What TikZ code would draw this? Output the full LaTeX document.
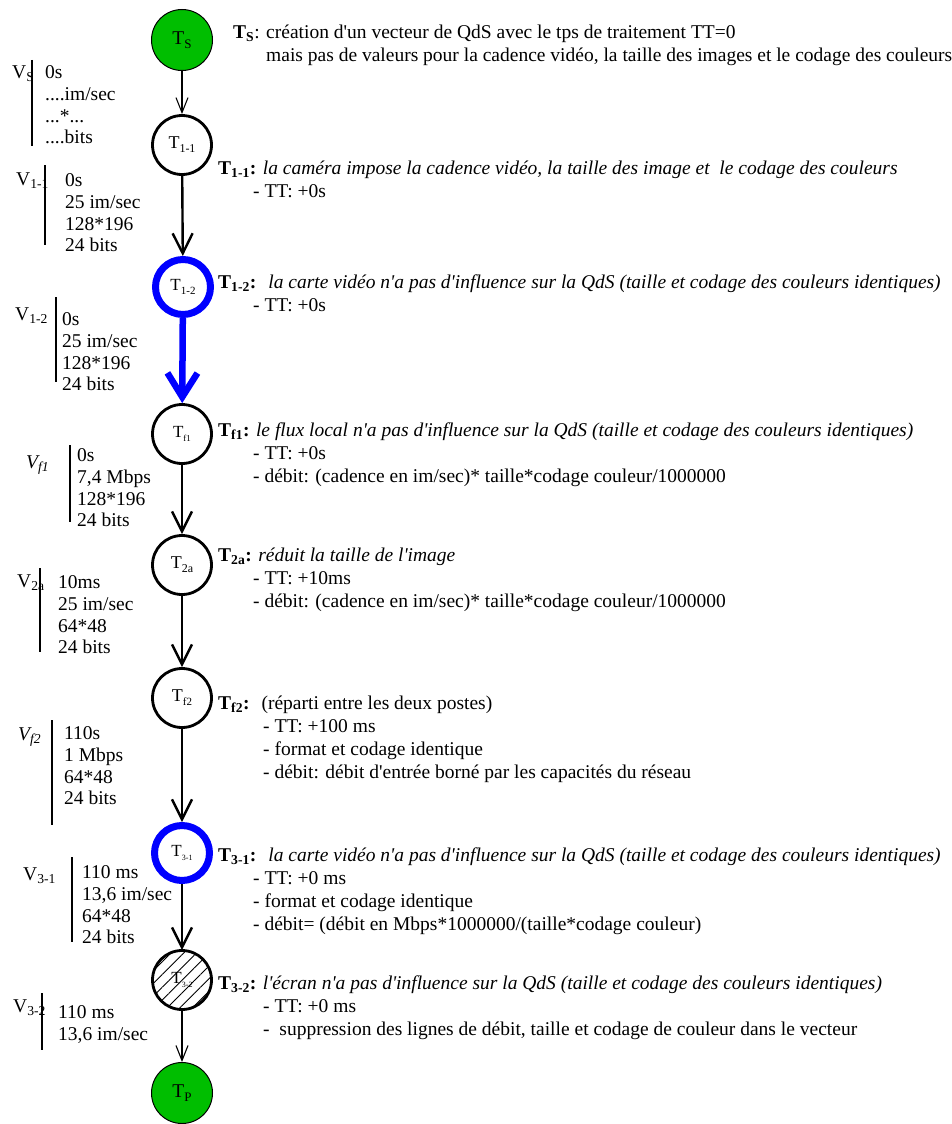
\documentclass[tikz,border=0pt]{standalone}
\usepackage{fontspec}
\setmainfont{Liberation Serif}
\usetikzlibrary{arrows.meta,patterns.meta}

\definecolor{startgreen}{RGB}{0,190,0}
\definecolor{flowblue}{RGB}{0,0,255}
% T with a small lowered index, sizes in pt
\newcommand\tsub[3]{{\fontsize{#1}{#1}\selectfont T}{\fontsize{#2}{#2}\selectfont\raisebox{-4pt}{#3}}}
\newcommand\apo{\textquotesingle}

\begin{document}
\begin{tikzpicture}[
  x=1pt, y=-1pt,
  font=\fontsize{19.5}{22.5}\selectfont,
  proc/.style={circle, draw, line width=2.8pt, minimum size=59pt, inner sep=0pt, fill=white},
  endpt/.style={proc, fill=startgreen, line width=1pt, minimum size=61pt},
  cardproc/.style={proc, draw=flowblue, line width=7pt, minimum size=55pt},
  hatched/.style={proc, pattern={Lines[angle=45,distance=9pt,line width=0.9pt]}},
  flow/.style={-{Straight Barb[length=20pt,width=20pt]}, line width=2.4pt},
  thinflow/.style={-{Straight Barb[length=15pt,width=12pt]}, line width=1.1pt},
  blueflow/.style={-{Straight Barb[length=24pt,width=30pt]}, line width=6.5pt, draw=flowblue},
  vec/.style={anchor=north west, align=left, inner sep=0pt, font=\fontsize{19.5}{21.8}\selectfont},
  vlabel/.style={anchor=base west, inner sep=0pt},
  vbar/.style={line width=2.8pt},
  note/.style={anchor=north west, align=left, inner sep=0pt, font=\fontsize{19.5}{23}\selectfont},
]
\useasboundingbox (0,0) rectangle (951,1124);

% chain of treatments
\node[endpt]    (ts)  at (182,40)   {\tsub{19.5}{13}{S}};
\node[proc]     (t11) at (182,145)  {\tsub{18}{12}{1-1}};
\node[cardproc] (t12) at (183,287)  {\tsub{17}{11}{1-2}};
\node[proc]     (tf1) at (182,434)  {\tsub{17}{9}{f1}};
\node[proc]     (t2a) at (182,565)  {\tsub{18}{12}{2a}};
\node[proc]     (tf2) at (182,698)  {\tsub{18}{11}{f2}};
\node[cardproc] (t31) at (182,853)  {\tsub{17}{8}{3-1}};
\node[hatched]  (t32) at (182,980)  {\tsub{17}{8}{3-2}};
\node[endpt]    (tp)  at (182,1093) {\tsub{19.5}{13}{P}};

\draw[thinflow] (ts)  -- (t11);
\draw[flow]     (t11) -- (t12);
\draw[blueflow] (t12) -- (tf1);
\draw[flow]     (tf1) -- (t2a);
\draw[flow]     (t2a) -- (tf2);
\draw[flow]     (tf2) -- (t31);
\draw[flow]     (t31) -- (t32);
\draw[thinflow] (t32) -- (tp);

% QoS vectors on the left
\node[vlabel] (vsl) at (12,78) {V\textsubscript{S}};
\draw[vbar] (32,60) -- (32,146);
\node[vec] (vs) at (45,65.4) {0s\\....im/sec\\...*...\\....bits};

\node[vlabel] (v11l) at (16,185) {V\textsubscript{1-1}};
\draw[vbar] (45,165) -- (45,245);
\node[vec] (v11) at (65,173.4) {0s\\25 im/sec\\128*196\\24 bits};

\node[vlabel] (v12l) at (15,320) {V\textsubscript{1-2}};
\draw[vbar] (56,297) -- (56,382);
\node[vec] (v12) at (62,312.4) {0s\\25 im/sec\\128*196\\24 bits};

\node[vlabel] (vf1l) at (26,468) {\textit{V\textsubscript{f1}}};
\draw[vbar] (70,445) -- (70,522);
\node[vec] (vf1) at (77,448.4) {0s\\7,4 Mbps\\128*196\\24 bits};

\node[vlabel] (v2al) at (17,587) {V\textsubscript{2a}};
\draw[vbar] (40,568) -- (40,652);
\node[vec] (v2a) at (58,575.4) {10ms\\25 im/sec\\64*48\\24 bits};

\node[vlabel] (vf2l) at (18,740) {\textit{V\textsubscript{f2}}};
\draw[vbar] (52,720) -- (52,825);
\node[vec] (vf2) at (64,726.4) {110s\\1 Mbps\\64*48\\24 bits};

\node[vlabel] (v31l) at (23,880) {V\textsubscript{3-1}};
\draw[vbar] (72,857) -- (72,942);
\node[vec] (v31) at (82,865.4) {110 ms\\13,6 im/sec\\64*48\\24 bits};

\node[vlabel] (v32l) at (13,1012) {V\textsubscript{3-2}};
\draw[vbar] (42,993) -- (42,1050);
\node[vec] (v32) at (58,1005.4) {110 ms\\13,6 im/sec};

% notes on the right
\node[note] (nts) at (233,24.7) {\textbf{T\textsubscript{S}}: création d\apo un vecteur de QdS avec le tps de traitement TT=0\\
  \hspace*{33pt}mais pas de valeurs pour la cadence vidéo, la taille des images et le codage des couleurs};
\node[note] (n11) at (218,160.7) {\textbf{T\textsubscript{1-1}:} \textit{la caméra impose la cadence vidéo, la taille des image et\ \ le codage des couleurs}\\
  \hspace*{35pt}- TT: +0s};
\node[note] (n12) at (218,274.7) {\textbf{T\textsubscript{1-2}:}\hspace{12pt}\textit{la carte vidéo n\apo a pas d\apo influence sur la QdS (taille et codage des couleurs identiques)}\\
  \hspace*{35pt}- TT: +0s};
\node[note] (nf1) at (218,422.7) {\textbf{T\textsubscript{f1}:} \textit{le flux local n\apo a pas d\apo influence sur la QdS (taille et codage des couleurs identiques)}\\
  \hspace*{35pt}- TT: +0s\\
  \hspace*{35pt}- débit: (cadence en im/sec)* taille*codage couleur/1000000};
\node[note] (n2a) at (218,547.7) {\textbf{T\textsubscript{2a}:} \textit{réduit la taille de l\apo image}\\
  \hspace*{35pt}- TT: +10ms\\
  \hspace*{35pt}- débit: (cadence en im/sec)* taille*codage couleur/1000000};
\node[note] (nf2) at (218,695.7) {\textbf{T\textsubscript{f2}:}\hspace{12pt}(réparti entre les deux postes)\\
  \hspace*{45pt}- TT: +100 ms\\
  \hspace*{45pt}- format et codage identique\\
  \hspace*{45pt}- débit: débit d\apo entrée borné par les capacités du réseau};
\node[note] (n31) at (218,847.7) {\textbf{T\textsubscript{3-1}:}\hspace{12pt}\textit{la carte vidéo n\apo a pas d\apo influence sur la QdS (taille et codage des couleurs identiques)}\\
  \hspace*{35pt}- TT: +0 ms\\
  \hspace*{35pt}- format et codage identique\\
  \hspace*{35pt}- débit= (débit en Mbps*1000000/(taille*codage couleur)};
\node[note] (n32) at (218,975.7) {\textbf{T\textsubscript{3-2}:} \textit{l\apo écran n\apo a pas d\apo influence sur la QdS (taille et codage des couleurs identiques)}\\
  \hspace*{45pt}- TT: +0 ms\\
  \hspace*{45pt}-\ \ suppression des lignes de débit, taille et codage de couleur dans le vecteur};

\end{tikzpicture}
\end{document}
